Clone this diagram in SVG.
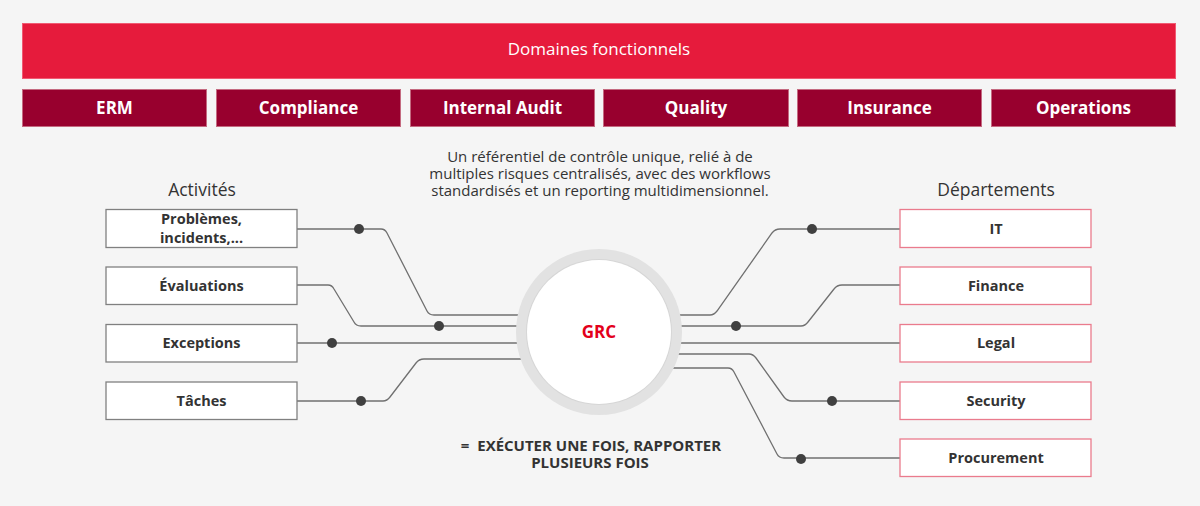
<svg xmlns="http://www.w3.org/2000/svg" width="1200" height="506" viewBox="0 0 1200 506">
<style>
text{font-family:"Open Sans","Noto Sans","DejaVu Sans",sans-serif}
.dom{fill:#e61b3c;stroke:#f05a72;stroke-width:1}
.sub{fill:#98002e;stroke:#c46a80;stroke-width:1}
.subt{fill:#fff;font-size:17px;font-weight:700;text-anchor:middle}
.act{fill:#fff;stroke:#808080;stroke-width:1.3}
.dep{fill:#fff;stroke:#ea7b8d;stroke-width:1.3}
.lbl{fill:#333;font-size:14.5px;font-weight:700;text-anchor:middle}
.hdr{fill:#333;font-size:17.5px;text-anchor:middle}
.para{fill:#333;font-size:15px;text-anchor:middle}
.concl{fill:#333;font-size:15px;font-weight:700;text-anchor:middle}
.ln{fill:none;stroke:#707070;stroke-width:1.3}
.dot{fill:#404040}
</style>
<rect width="1200" height="506" fill="#f5f5f5"/>
<g id="domaines">
<rect class="dom" x="22.5" y="23.5" width="1153" height="55"/>
<text x="599" y="55" fill="#fff" font-size="17" text-anchor="middle">Domaines fonctionnels</text>
</g>
<g id="erm"><rect class="sub" x="22.5" y="89.5" width="184" height="37"/><text class="subt" x="114.5" y="114">ERM</text></g>
<g id="compliance"><rect class="sub" x="216.5" y="89.5" width="184" height="37"/><text class="subt" x="308.5" y="114">Compliance</text></g>
<g id="internal-audit"><rect class="sub" x="410.5" y="89.5" width="184" height="37"/><text class="subt" x="502.5" y="114">Internal Audit</text></g>
<g id="quality"><rect class="sub" x="603.5" y="89.5" width="185" height="37"/><text class="subt" x="696" y="114">Quality</text></g>
<g id="insurance"><rect class="sub" x="797.5" y="89.5" width="184" height="37"/><text class="subt" x="889.5" y="114">Insurance</text></g>
<g id="operations"><rect class="sub" x="991.5" y="89.5" width="184" height="37"/><text class="subt" x="1083.5" y="114">Operations</text></g>
<g id="description">
<text class="para" x="600" y="162">Un référentiel de contrôle unique, relié à de</text>
<text class="para" x="600" y="179">multiples risques centralisés, avec des workflows</text>
<text class="para" x="600" y="196">standardisés et un reporting multidimensionnel.</text>
</g>
<g id="headers">
<text class="hdr" x="202" y="196">Activités</text>
<text class="hdr" x="996" y="196">Départements</text>
</g>
<g id="connectors">
<path class="ln" d="M297,229 H381 Q385,229 387,233 L427,311 Q429,315 434,315 H599"/>
<path class="ln" d="M297,285 H328 Q332,285 334,289 L354,322 Q356,326 361,326 H599"/>
<path class="ln" d="M297,343 H599"/>
<path class="ln" d="M297,401 H383 Q387,401 390,397 L416,363 Q419,359 424,359 H599"/>
<path class="ln" d="M599,315 H710 Q714,315 717,311 L772,233 Q775,229 780,229 H900"/>
<path class="ln" d="M599,326 H801 Q805,326 808,322 L834,289 Q837,285 842,285 H900"/>
<path class="ln" d="M599,343 H900"/>
<path class="ln" d="M599,354 H749 Q753,354 756,358 L784,397 Q787,401 792,401 H900"/>
<path class="ln" d="M599,368 H728 Q732,368 734,372 L777,454 Q779,458 784,458 H900"/>
<circle class="dot" cx="359" cy="229" r="5"/>
<circle class="dot" cx="439" cy="326" r="5"/>
<circle class="dot" cx="332" cy="343" r="5"/>
<circle class="dot" cx="361" cy="401" r="5"/>
<circle class="dot" cx="812" cy="229" r="5"/>
<circle class="dot" cx="736" cy="326" r="5"/>
<circle class="dot" cx="832" cy="401" r="5"/>
<circle class="dot" cx="801" cy="459" r="5"/>
</g>
<g id="grc">
<circle cx="599" cy="332" r="83" fill="#e2e2e2"/>
<circle cx="599" cy="332" r="73" fill="#d6d6d6"/>
<circle cx="599" cy="332" r="72" fill="#fff"/>
<text x="599" y="338" fill="#e3001b" font-size="17" font-weight="700" text-anchor="middle">GRC</text>
</g>
<g id="problemes"><rect class="act" x="106" y="209.5" width="191" height="38"/><text class="lbl" x="201.5" y="224">Problèmes,</text><text class="lbl" x="201.5" y="243">incidents,...</text></g>
<g id="evaluations"><rect class="act" x="106" y="267" width="191" height="37.5"/><text class="lbl" x="201.5" y="291">Évaluations</text></g>
<g id="exceptions"><rect class="act" x="106" y="324.5" width="191" height="37.5"/><text class="lbl" x="201.5" y="348">Exceptions</text></g>
<g id="taches"><rect class="act" x="106" y="382" width="191" height="37.5"/><text class="lbl" x="201.5" y="406">Tâches</text></g>
<g id="it"><rect class="dep" x="900" y="209.5" width="191" height="38"/><text class="lbl" x="996" y="234">IT</text></g>
<g id="finance"><rect class="dep" x="900" y="267" width="191" height="37.5"/><text class="lbl" x="996" y="291">Finance</text></g>
<g id="legal"><rect class="dep" x="900" y="324.5" width="191" height="37.5"/><text class="lbl" x="996" y="348">Legal</text></g>
<g id="security"><rect class="dep" x="900" y="382" width="191" height="37.5"/><text class="lbl" x="996" y="406">Security</text></g>
<g id="procurement"><rect class="dep" x="900" y="439" width="191" height="37.5"/><text class="lbl" x="996" y="463">Procurement</text></g>
<g id="conclusion">
<text class="concl" x="591" y="451" xml:space="preserve">=  EXÉCUTER UNE FOIS, RAPPORTER</text>
<text class="concl" x="590" y="468">PLUSIEURS FOIS</text>
</g>
</svg>
